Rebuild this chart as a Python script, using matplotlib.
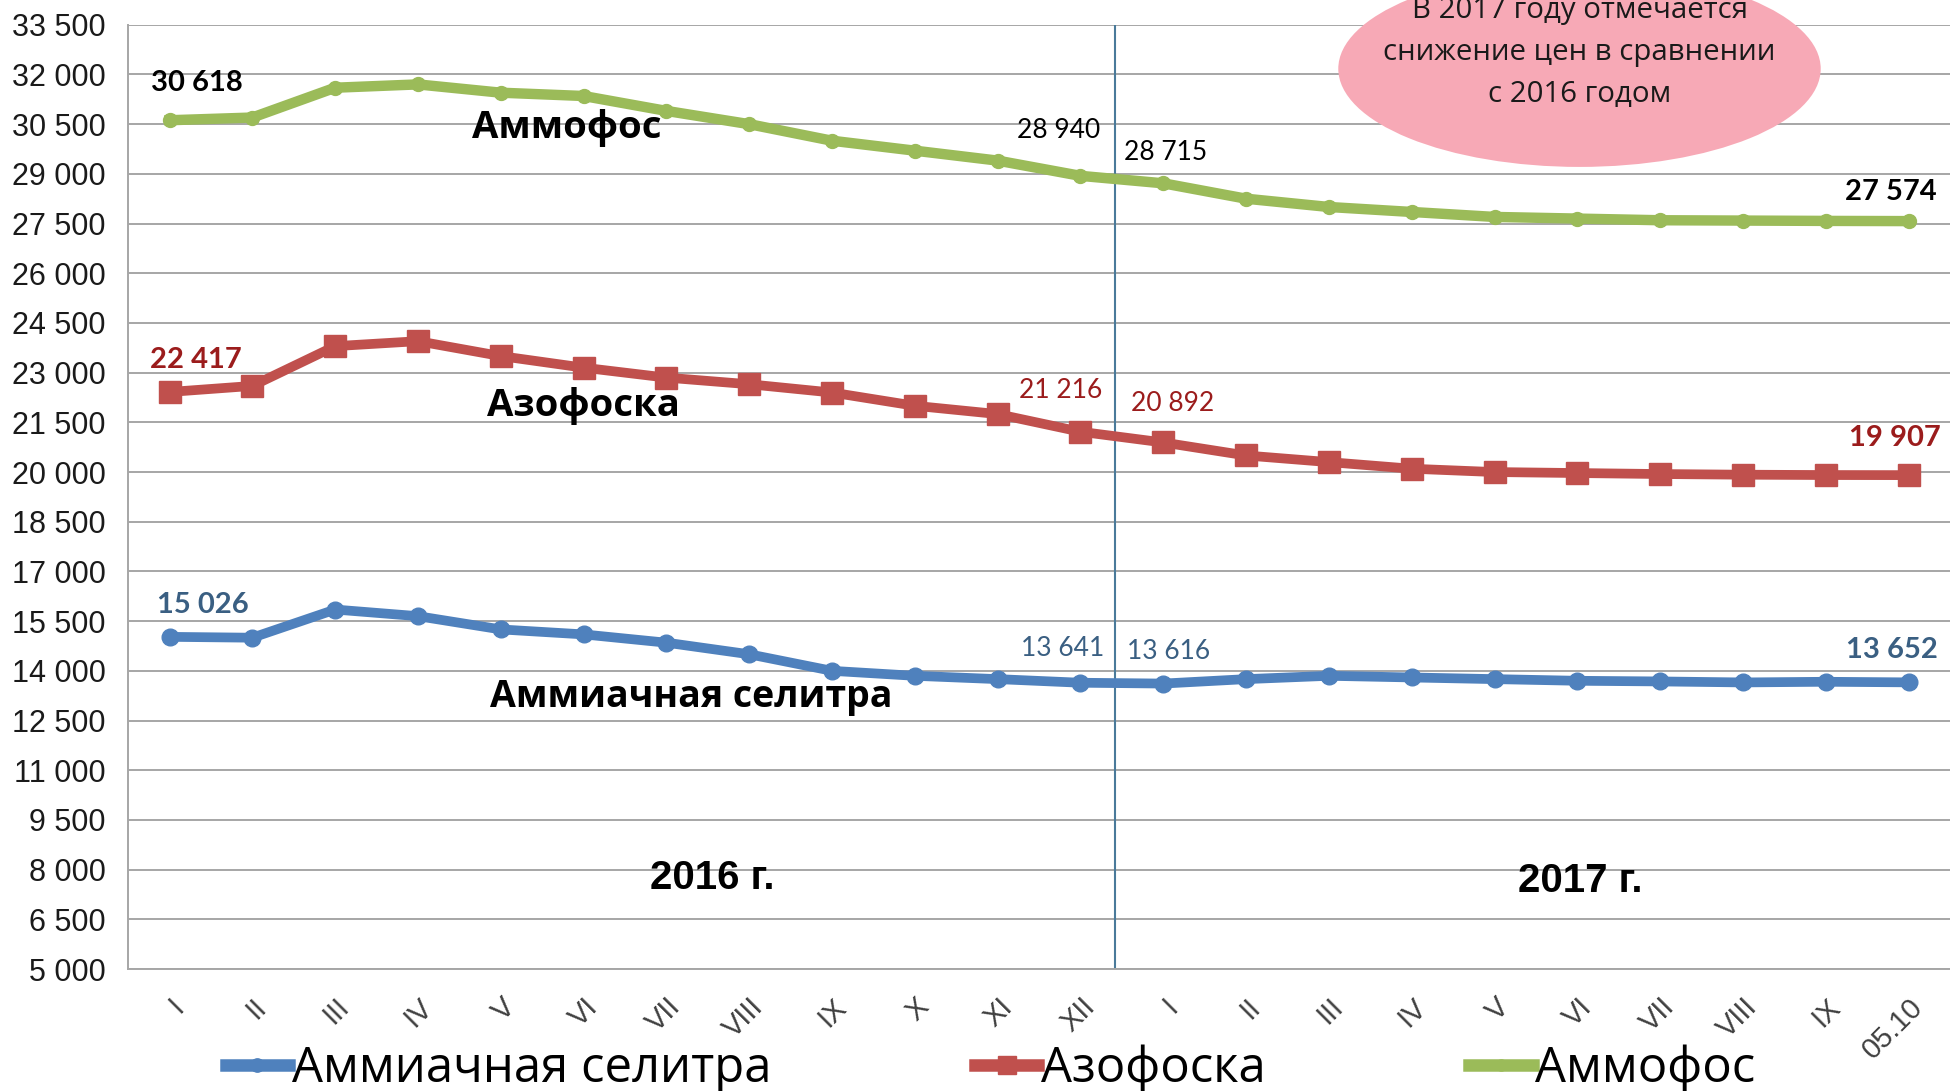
import matplotlib
matplotlib.use("Agg")
import matplotlib.pyplot as plt
from matplotlib.patches import Ellipse
from matplotlib.ticker import FuncFormatter

categories = ["I", "II", "III", "IV", "V", "VI", "VII", "VIII", "IX", "X", "XI", "XII",
              "I", "II", "III", "IV", "V", "VI", "VII", "VIII", "IX", "05.10"]

nitrate = [15026, 15000, 15850, 15650, 15250, 15100, 14850, 14500, 14000, 13850, 13750, 13641,
           13616, 13750, 13850, 13800, 13750, 13700, 13680, 13650, 13670, 13652]
azofoska = [22417, 22600, 23800, 23950, 23500, 23150, 22850, 22650, 22400, 22000, 21750, 21216,
            20892, 20500, 20300, 20100, 20000, 19970, 19940, 19920, 19910, 19907]
ammofos = [30618, 30700, 31600, 31700, 31450, 31350, 30900, 30500, 30000, 29700, 29400, 28940,
           28715, 28250, 28000, 27850, 27700, 27650, 27600, 27590, 27580, 27574]

series_names = ["Аммиачная селитра", "Азофоска", "Аммофос"]
labelled_idx = [0, 11, 12, 21]

y_min, y_max, y_step = 5000, 33500, 1500

BLUE, RED, GREEN = "#4F81BD", "#C0504D", "#9BBB59"
NUM = ["Lato", "DejaVu Sans"]
CYR = ["Open Sans", "DejaVu Sans"]
ARIAL = ["Liberation Sans", "DejaVu Sans"]

fig = plt.figure(figsize=(19.5, 10.91), dpi=100)
ax = fig.add_axes([0.0657, 0.1118, 0.9343, 0.8655])

x = list(range(len(categories)))
ax.plot(x, nitrate, color=BLUE, lw=7, marker="o", ms=12, solid_joinstyle="round", zorder=3,
        label=series_names[0])
ax.plot(x, azofoska, color=RED, lw=7, marker="s", ms=16, zorder=3, label=series_names[1])
ax.plot(x, ammofos, color=GREEN, lw=7.5, marker="o", ms=10, solid_joinstyle="round", zorder=3,
        label=series_names[2])

ax.set_xlim(-0.5, len(categories) - 0.5)
ax.set_ylim(y_min, y_max)
ax.set_yticks(range(y_min, y_max + 1, y_step))
ax.yaxis.set_major_formatter(FuncFormatter(lambda v, p: f"{int(v):,}".replace(",", " ")))
ax.set_xticks(x)
ax.set_xticklabels(categories, rotation=45, ha="right", rotation_mode="anchor",
                   family=ARIAL, fontsize=21, color="#404040")
for t in ax.get_yticklabels():
    t.set_family(ARIAL)
    t.set_fontsize(22)
    t.set_color("#1a1a1a")
ax.tick_params(axis="y", length=0, pad=16)
ax.tick_params(axis="x", length=0, pad=17)
ax.grid(axis="y", color="#A6A6A6", lw=1.4)
ax.set_axisbelow(True)
for s in ["top", "right"]:
    ax.spines[s].set_visible(False)
for s in ["left", "bottom"]:
    ax.spines[s].set_color("#A6A6A6")
    ax.spines[s].set_linewidth(1.4)

ax.axvline(11.42, color="#4A7A9A", lw=1.5, zorder=2)

def fmt(v):
    return f"{v:,}".replace(",", " ")

offsets = {
    0: [(24, 23), (-13, 25), (4, 23), (-12, 23)],
    1: [(19, 23), (-14, 30), (7, 28), (-10, 27)],
    2: [(20, 27), (-16, 33), (2, 22), (-13, 21)],
}
lab_colors = ["#3A5F82", "#9B1C1C", "#000000"]
for si, data in enumerate([nitrate, azofoska, ammofos]):
    for k, i in enumerate(labelled_idx):
        end = k in (0, 3)
        ax.annotate(fmt(data[i]), (i, data[i]), xytext=offsets[si][k], textcoords="offset points",
                    ha="center", va="center", family=NUM,
                    fontsize=21 if end else 19, fontweight="bold" if end else "normal",
                    color=lab_colors[si], zorder=5)

ax.text(4.8, 30390, "Аммофос", family=CYR, fontsize=27.5, fontweight="bold", ha="center", va="center")
ax.text(5.0, 21990, "Азофоска", family=CYR, fontsize=27.5, fontweight="bold", ha="center", va="center")
ax.text(6.3, 13210, "Аммиачная селитра", family=CYR, fontsize=27, fontweight="bold", ha="center", va="center")
ax.text(6.55, 7740, "2016 г.", family=ARIAL, fontsize=29, fontweight="bold", ha="center", va="center")
ax.text(17.04, 7660, "2017 г.", family=ARIAL, fontsize=29, fontweight="bold", ha="center", va="center")

ell = Ellipse((0.81, 0.937), 0.2474, 0.18, transform=fig.transFigure, facecolor="#F7A9B6",
              edgecolor="none", zorder=6)
fig.add_artist(ell)
fig.text(0.81, 0.952, "В 2017 году отмечается\nснижение цен в сравнении\nс 2016 годом",
         family=CYR, fontsize=21.2, ha="center", va="center", color="#1a1a1a",
         linespacing=1.58, zorder=7)

leg = fig.legend(loc="center", bbox_to_anchor=(0.508, 0.02), ncol=3, frameon=False,
                 prop={"family": CYR, "size": 35.3}, handlelength=1.3, handletextpad=0.05,
                 columnspacing=4.15, markerscale=0.8)
for h in leg.get_lines():
    h.set_linewidth(9)

fig.savefig("out.png", dpi=100, facecolor="white")
